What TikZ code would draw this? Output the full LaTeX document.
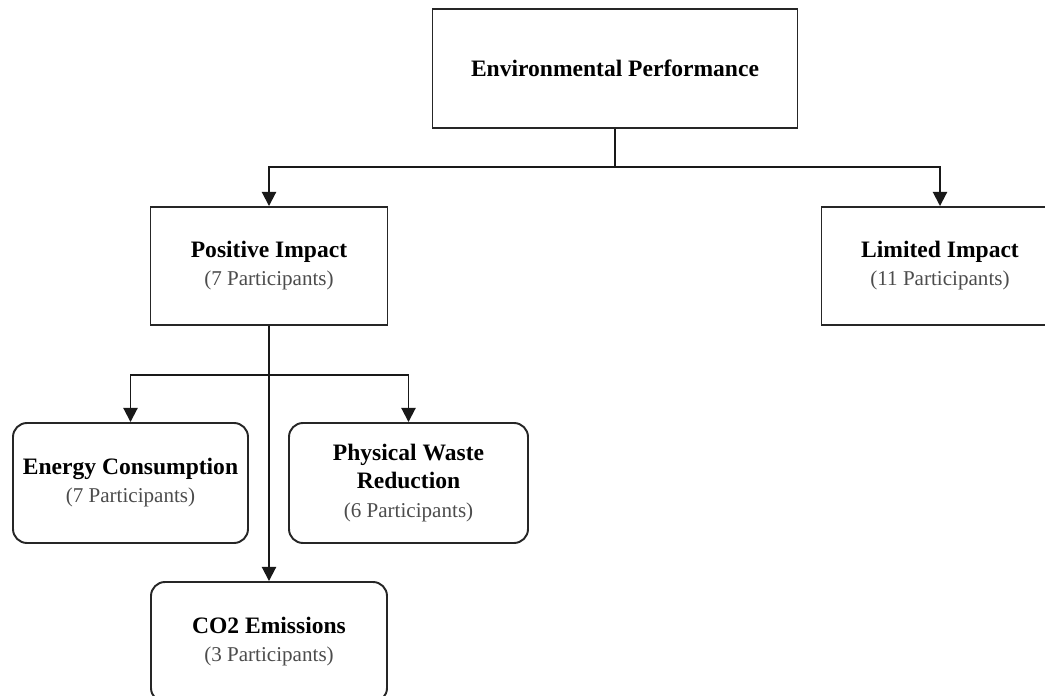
\documentclass[tikz,border=0pt]{standalone}
\usepackage{fontspec}
\setmainfont{Liberation Serif}
\usepackage{tikz}
\usetikzlibrary{arrows.meta}

\newcommand{\nparts}[1]{{\mdseries\fontsize{12}{16}\selectfont\color{black!70}(#1 Participants)}}

\begin{document}
\begin{tikzpicture}[
    box/.style={draw=black!85, line width=1.1pt, minimum width=4.74cm, minimum height=2.36cm,
        align=center, inner sep=2pt, font=\fontsize{13.4}{16}\selectfont\bfseries},
    rbox/.style={box, rounded corners=0.28cm, minimum height=2.4cm},
    link/.style={draw=black!90, line width=1.1pt, -{Triangle[width=8pt,length=8pt]}}]

\useasboundingbox (0,0) rectangle (20.9,-13.92);
\clip (0,0) rectangle (20.9,-13.92);

\node[box, minimum width=7.3cm, minimum height=2.38cm] (env) at (12.3,-1.37) {Environmental Performance};

\node[box] (pos) at (5.38,-5.32) {Positive Impact\\\nparts{7}};
\node[box] (lim) at (18.8,-5.32) {Limited Impact\\\nparts{11}};

\node[rbox, minimum width=4.7cm] (energy) at (2.61,-9.66) {Energy Consumption\\\nparts{7}};
\node[rbox, minimum width=4.78cm] (waste) at (8.17,-9.66) {Physical Waste\\Reduction\\\nparts{6}};
\node[rbox, minimum width=4.72cm] (co2) at (5.38,-12.84) {CO2 Emissions\\\nparts{3}};

\foreach \n in {pos,lim}
    \draw[link] (env.south) -- ++(0,-0.76) -| (\n.north);

\foreach \n in {energy,waste}
    \draw[link] (pos.south) -- ++(0,-0.98) -| (\n.north);

\draw[link] (pos.south) -- (co2.north);

\end{tikzpicture}
\end{document}
